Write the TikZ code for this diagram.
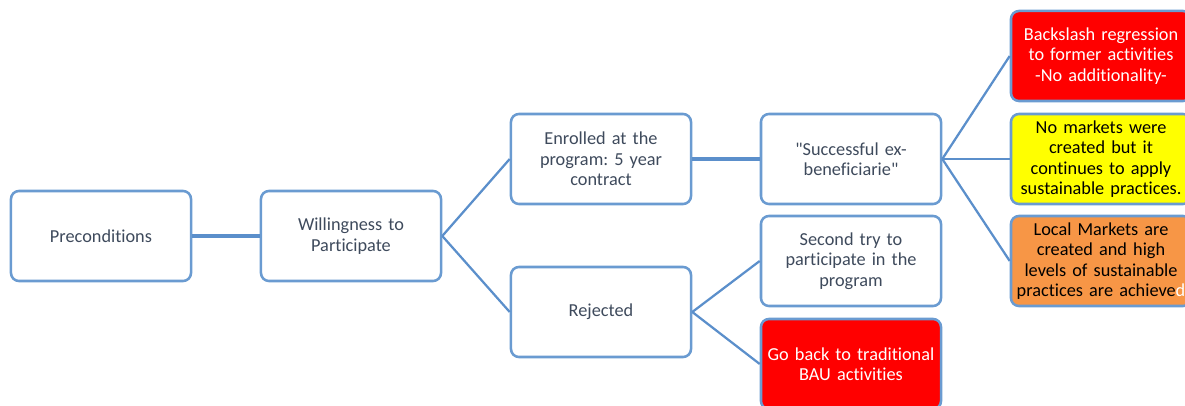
\documentclass[tikz,border=0pt]{standalone}
\usepackage{fontspec}
\setmainfont{Carlito}[Ligatures=NoCommon]
\usetikzlibrary{calc}
\frenchspacing
\definecolor{boxline}{HTML}{6A9BD1}
\definecolor{linkline}{HTML}{5B8FCB}
\definecolor{slate}{HTML}{3E4A5C}
\definecolor{hotred}{HTML}{FF0000}
\definecolor{warnyellow}{HTML}{FFFF00}
\definecolor{softorange}{HTML}{F79646}
\tikzset{
  box/.style={draw=boxline, line width=1.8pt, rounded corners=0.2cm, fill=white,
    minimum width=4.5cm, minimum height=2.25cm, text width=4.4cm, align=center,
    inner sep=0pt, text=slate, font=\fontsize{13}{14.6}\selectfont},
  redbox/.style={box, fill=hotred, text=white},
  yellowbox/.style={box, fill=warnyellow, text=black},
  orangebox/.style={box, fill=softorange, text=black},
  link/.style={draw=linkline, line width=1.6pt},
  thicklink/.style={draw=linkline, line width=2.4pt}
}

\begin{document}
\begin{tikzpicture}[x=0.025cm, y=-0.025cm]
		%%%%% START %%%%%
		
		\useasboundingbox (0, 0) rectangle (1185, 406);
		\clip (0, 0) rectangle (1185, 406);
		
		\node[box] (pre) at (101, 236) {Preconditions};
		\node[box] (will) at (351, 236) {Willingness to\\Participate};
		
		\node[box] (enr) at (601, 159) {Enrolled at the\\program: 5 year\\contract};
		\node[box] (rej) at (601, 312) {Rejected};
		
		\node[box] (succ) at (851, 159) {\textquotedbl Successful ex-\\beneficiarie\textquotedbl};
		\node[box] (second) at (851, 261) {Second try to\\participate in the\\program};
		\node[redbox] (back) at (851, 364) {Go back to traditional\\BAU activities};
		
		\node[redbox] (regress) at (1101, 56) {Backslash regression\\to former activities\\-No additionality-};
		\node[yellowbox] (nomarket) at (1101, 159) {No markets were\\created but it\\continues to apply\\sustainable practices.};
		\node[orangebox] (local) at (1101, 261) {Local Markets are\\created and high\\levels of sustainable\\practices are achieve\textcolor{white}{d}};
		
		\draw[thicklink] (pre.east) -- (will.west);
		\draw[link] (will.east) -- (enr.west);
		\draw[link] (will.east) -- (rej.west);
		\draw[thicklink] (enr.east) -- (succ.west);
		\draw[link] (rej.east) -- (second.west);
		\draw[link] (rej.east) -- (back.west);
		\draw[link] (succ.east) -- (regress.west);
		\draw[link] (succ.east) -- (nomarket.west);
		\draw[link] (succ.east) -- (local.west);
		
		%%%%% END %%%%%
	\end{tikzpicture}
\end{document}
